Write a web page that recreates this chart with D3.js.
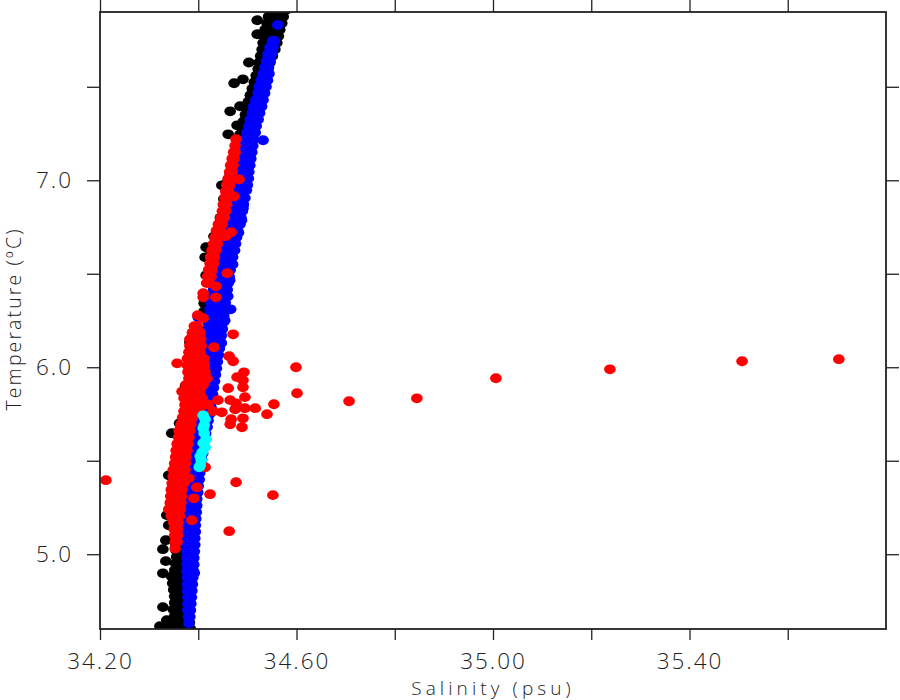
<!DOCTYPE html>
<html>
<head>
<meta charset="utf-8">
<script src="https://cdn.jsdelivr.net/npm/d3@7/dist/d3.min.js"></script>
<style>
html,body{margin:0;padding:0;background:#fff;}
svg{display:block;}
text{font-family:"Open Sans",sans-serif;font-weight:300;fill:#222;}
</style>
</head>
<body>
<svg id="chart" width="900" height="700"></svg>
<script>
// Each row: temperature, then the salinities read at that temperature.
const blackRows = [
[4.615,34.322],[4.647,34.336],[4.717,34.328],[4.898,34.328],[4.963,34.334],[5.027,34.328],[5.075,34.334],
[4.60,34.336,34.350,34.362,34.375,34.384],[4.635,34.345,34.358,34.370,34.382],[4.67,34.352,34.364,34.376],
[4.705,34.349,34.361,34.374],[4.74,34.352,34.364,34.375],[4.775,34.352,34.366],[4.81,34.350,34.361,34.372],
[4.845,34.348,34.359,34.371],[4.88,34.346,34.358,34.370],[4.915,34.352,34.364],[4.95,34.354,34.364],
[4.985,34.356,34.364],[5.02,34.355,34.364],[5.055,34.354,34.362],[5.09,34.354,34.362],[5.13,34.356,34.364],
[5.155,34.340],[5.209,34.336],[5.422,34.340],[5.3,34.352],[5.5,34.356],[5.647,34.346],[5.7,34.362],[5.9,34.374],
[6.134,34.383],[6.1,34.385],[6.342,34.412],[6.3,34.412],[6.492,34.416],[6.588,34.414],[6.642,34.416],[6.6,34.425],
[6.7,34.432],[6.8,34.445],[6.9,34.452],
[7.0,34.461,34.471],[7.035,34.465,34.475],[7.07,34.469,34.480],[7.105,34.472,34.484],[7.14,34.475,34.488],
[7.175,34.479,34.492],[7.21,34.482,34.497],[7.245,34.485,34.495,34.503],[7.28,34.489,34.499,34.508],
[7.315,34.492,34.503,34.513],[7.35,34.496,34.507,34.517],[7.385,34.498,34.509,34.519],[7.42,34.502,34.513,34.522],
[7.455,34.506,34.517,34.525],[7.49,34.510,34.520,34.530],[7.525,34.514,34.524,34.534],[7.56,34.518,34.528,34.538],
[7.595,34.522,34.532,34.542],[7.63,34.524,34.535,34.546],[7.665,34.527,34.539,34.551],[7.70,34.530,34.543,34.556],
[7.735,34.532,34.546,34.560],[7.77,34.534,34.549,34.563],[7.805,34.536,34.551,34.566],[7.84,34.540,34.555,34.570],
[7.875,34.543,34.558,34.573],[7.91,34.546,34.561,34.578],
[7.856,34.520],[7.781,34.520],[7.63,34.503],[7.54,34.491],[7.519,34.473],[7.396,34.485],[7.369,34.465],
[7.294,34.479],[7.246,34.461],[6.973,34.448]
];
const blueRows = [
[4.63,34.381],[4.665,34.380,34.383],[4.70,34.379,34.384],[4.735,34.379,34.385],[4.77,34.379,34.386],
[4.805,34.378,34.387],[4.84,34.378,34.388],[4.875,34.378,34.389],[4.90,34.392],[4.91,34.377,34.384,34.390],[4.945,34.377,34.384,34.391],
[4.98,34.377,34.385,34.391],[5.015,34.377,34.385,34.392],[5.05,34.377,34.385,34.393],[5.085,34.377,34.386,34.393],
[5.12,34.378,34.386,34.394],[5.155,34.377,34.386,34.394],[5.19,34.377,34.387,34.395],[5.225,34.378,34.387,34.396],
[5.26,34.378,34.388,34.397],[5.295,34.378,34.388,34.397],[5.33,34.379,34.390,34.399],[5.365,34.379,34.390,34.400],
[5.40,34.380,34.391,34.402],[5.435,34.381,34.392,34.403],[5.47,34.382,34.394,34.405],[5.505,34.383,34.395,34.407],
[5.54,34.384,34.396,34.409],[5.575,34.386,34.398,34.411],[5.61,34.387,34.400,34.413],[5.645,34.389,34.402,34.415],
[5.68,34.392,34.404,34.418],[5.715,34.393,34.406,34.420],[5.75,34.396,34.410,34.423],[5.785,34.398,34.412,34.426],
[5.82,34.400,34.414,34.428],[5.855,34.402,34.416,34.429],[5.89,34.404,34.418,34.431],[5.925,34.406,34.420,34.433],
[5.96,34.408,34.422,34.435],[5.995,34.410,34.424,34.437],[6.03,34.411,34.425,34.439],[6.065,34.413,34.427,34.441],
[6.10,34.414,34.429,34.443],[6.13,34.447],[6.135,34.415,34.431,34.445],[6.17,34.417,34.432,34.447],[6.205,34.419,34.434,34.449],
[6.24,34.420,34.436,34.451],[6.25,34.454],[6.267,34.400],[6.275,34.422,34.437,34.452],[6.31,34.424,34.439,34.454,34.466],[6.345,34.426,34.441,34.455],
[6.38,34.428,34.443,34.457,34.460],[6.415,34.431,34.446,34.459],[6.45,34.433,34.448,34.461],[6.465,34.464],[6.485,34.435,34.450,34.463],
[6.52,34.438,34.452,34.465],[6.55,34.470],[6.555,34.440,34.455,34.468],[6.59,34.443,34.457,34.470],[6.625,34.446,34.460,34.474],
[6.66,34.448,34.462,34.476],[6.695,34.451,34.464,34.478],[6.72,34.482],[6.73,34.453,34.466,34.480],[6.765,34.456,34.469,34.485],
[6.786,34.488],[6.80,34.460,34.473,34.487],[6.835,34.462,34.475,34.490],[6.85,34.491],[6.87,34.465,34.477,34.492],[6.905,34.468,34.480,34.495],
[6.946,34.471,34.483,34.498],[6.975,34.474,34.486,34.500],[7.01,34.477,34.489,34.502],[7.045,34.480,34.492,34.503],
[7.08,34.483,34.495,34.505],[7.115,34.486,34.497,34.507],[7.15,34.488,34.499,34.509],[7.185,34.491,34.501,34.511],
[7.214,34.532],[7.22,34.495,34.505,34.513],[7.255,34.499,34.508,34.516],[7.29,34.503,34.511,34.518],[7.325,34.506,34.514,34.522],
[7.36,34.510,34.517,34.525],[7.395,34.513,34.521,34.529],[7.43,34.517,34.525,34.532],[7.465,34.522,34.529,34.535],
[7.50,34.524,34.532,34.538],[7.535,34.528,34.536,34.541],[7.57,34.532,34.539,34.544],[7.605,34.536,34.543],
[7.64,34.539,34.546],[7.675,34.542,34.549],[7.71,34.546,34.552],[7.745,34.551,34.555],[7.83,34.562]
];
const redRows = [
[7.22,34.477],[7.185,34.475],[7.15,34.472,34.475],[7.115,34.469,34.473],[7.08,34.466,34.471],[7.045,34.464,34.469],
[7.01,34.461,34.466],[6.975,34.458,34.464],[6.94,34.456,34.462],[6.905,34.454,34.460],[6.87,34.451,34.458],
[6.835,34.449,34.456],[6.80,34.446,34.453],[6.765,34.441,34.449],[6.73,34.437,34.445],[6.695,34.434,34.442],
[6.66,34.431,34.439],[6.625,34.428,34.436],[6.59,34.425,34.433],[6.555,34.424,34.431],[6.52,34.421,34.428],
[6.485,34.419,34.426],[6.45,34.417,34.423],
[6.396,34.410],[6.374,34.410],[6.278,34.399],[6.262,34.410],[6.433,34.436],[6.374,34.436],
[6.22,34.392,34.398],[6.185,34.388,34.396,34.404],[6.15,34.383,34.394,34.405],[6.115,34.383,34.394,34.406],
[6.08,34.381,34.392,34.404],[6.045,34.378,34.389,34.400,34.412],[6.01,34.378,34.390,34.402,34.412],
[5.975,34.379,34.391,34.403,34.414],[5.94,34.381,34.392,34.404,34.418],[5.905,34.375,34.387,34.399,34.410],
[5.87,34.367,34.378,34.390,34.404],[5.835,34.371,34.382,34.394,34.408],[5.80,34.373,34.384,34.396,34.408,34.420],
[5.765,34.371,34.382,34.393,34.403],[5.73,34.368,34.378,34.388],[5.695,34.365,34.375,34.385],[5.66,34.361,34.372,34.383],
[5.625,34.360,34.370,34.381],[5.59,34.357,34.368,34.379],[5.555,34.355,34.366,34.377],[5.52,34.354,34.364,34.375],
[5.485,34.352,34.363,34.374],[5.45,34.349,34.361,34.373],[5.415,34.349,34.360,34.371],[5.38,34.347,34.358,34.370],
[5.345,34.345,34.356,34.367],[5.31,34.344,34.355,34.366],[5.275,34.343,34.354,34.365],[5.24,34.340,34.352,34.363],
[5.205,34.345,34.355,34.362],[5.17,34.350,34.359],[5.135,34.351,34.358],[5.10,34.352,34.358],[5.065,34.353,34.357],[5.03,34.353],
[6.043,35.704],[6.032,35.507],[5.989,35.238],[5.941,35.006],[5.834,34.845],[5.818,34.707],[5.861,34.601],
[6.0,34.599],[5.396,34.212],[5.802,34.554],[5.749,34.540],[5.781,34.516],
[5.973,34.493],[5.947,34.479],[5.93,34.491],[5.888,34.461],[5.893,34.491],[5.84,34.495],[5.824,34.465],
[5.807,34.477],[5.781,34.495],[5.775,34.475],[5.824,34.440],[5.759,34.448],[5.765,34.430],[5.722,34.467],
[5.727,34.491],[5.695,34.465],[5.679,34.489],
[5.385,34.477],[5.316,34.552],[5.321,34.424],[5.358,34.397],[5.299,34.391],[5.182,34.387],[5.123,34.463],
[5.465,34.414],[5.406,34.381],[6.021,34.357],[6.107,34.432],[6.059,34.463],[6.032,34.471],
[7.005,34.483],[6.914,34.473],[6.722,34.467],[6.701,34.456],[6.503,34.459],[6.176,34.471]
];
const cyanRows = [
[5.743,34.410],[5.722,34.414],[5.69,34.412],[5.674,34.410],[5.647,34.412],[5.615,34.416],[5.594,34.410],
[5.572,34.414],[5.545,34.408],[5.524,34.404],[5.503,34.406],[5.476,34.404],[5.465,34.402]
];
const xTicks = [34.2,34.4,34.6,34.8,35.0,35.2,35.4,35.6];
const xLabelled = [34.2,34.6,35.0,35.4];
const yTicks = [5.0,5.5,6.0,6.5,7.0,7.5];
const yLabelled = [5.0,6.0,7.0];
const xTitle = "Salinity (psu)";
const yTitle = "Temperature (ºC)";
const seriesColors = ["#000000","#0000ff","#ff0000","#00ffff"];
const seriesRows = [blackRows,blueRows,redRows,cyanRows];

const L=100,R=886,T=12,B=629;
const x=d3.scaleLinear().domain([34.2,35.8]).range([L,R]);
const y=d3.scaleLinear().domain([4.6,7.9]).range([B,T]);
const svg=d3.select("#chart");
const lab=(list,d)=>list.some(v=>Math.abs(v-d)<1e-6);

svg.append("defs").append("clipPath").attr("id","plot").append("rect")
  .attr("x",L).attr("y",T).attr("width",R-L).attr("height",B-T);

const marks=svg.append("g").attr("clip-path","url(#plot)");
seriesRows.forEach((rows,i)=>{
  const pts=rows.flatMap(r=>r.slice(1).map(s=>({s,t:r[0]})));
  marks.append("g").selectAll("ellipse").data(pts).join("ellipse")
    .attr("cx",d=>x(d.s)).attr("cy",d=>y(d.t)).attr("rx",5.8).attr("ry",4.9)
    .attr("fill",seriesColors[i]);
});

function style(g){
  g.select(".domain").remove();
  g.selectAll("line").attr("stroke","#222").attr("stroke-width",1.3);
}
svg.append("g").attr("transform",`translate(0,${B})`)
  .call(d3.axisBottom(x).tickValues(xTicks).tickSize(11).tickPadding(13)
  .tickFormat(d=>lab(xLabelled,d)?d3.format(".2f")(d):""))
  .call(style);
svg.append("g").attr("transform",`translate(0,${T})`)
  .call(d3.axisTop(x).tickValues(xTicks).tickSize(12).tickFormat(""))
  .call(style);
svg.append("g").attr("transform",`translate(${L},0)`)
  .call(d3.axisLeft(y).tickValues(yTicks).tickSize(13).tickPadding(14)
  .tickFormat(d=>lab(yLabelled,d)?d3.format(".1f")(d):""))
  .call(style);
svg.append("g").attr("transform",`translate(${R},0)`)
  .call(d3.axisRight(y).tickValues(yTicks).tickSize(13).tickFormat(""))
  .call(style);
svg.selectAll(".tick text").style("font-size","22.5px").style("letter-spacing","2px")
  .style("font-family",'"Open Sans",sans-serif').style("font-weight",300).attr("fill","#222");

svg.append("rect").attr("x",L).attr("y",T).attr("width",R-L).attr("height",B-T)
  .attr("fill","none").attr("stroke","#222").attr("stroke-width",1.8);

svg.append("text").attr("x",493).attr("y",694.5).attr("text-anchor","middle")
  .style("font-size","19px").style("letter-spacing","4.1px").text(xTitle);
svg.append("text").attr("transform","translate(21,319) rotate(-90)").attr("text-anchor","middle")
  .style("font-size","19.5px").style("letter-spacing","2.1px").text(yTitle);
</script>
</body>
</html>
